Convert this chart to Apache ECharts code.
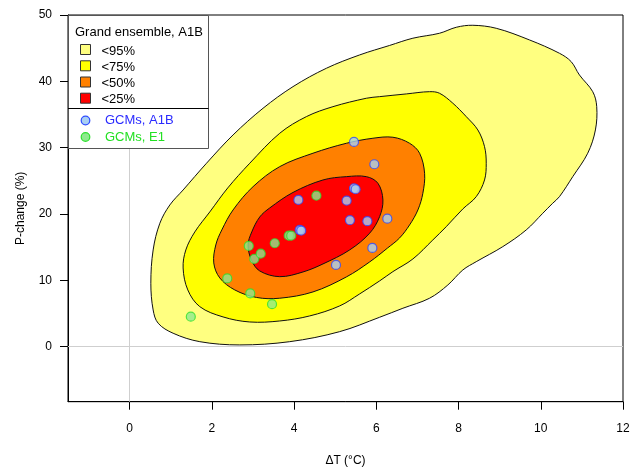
<!DOCTYPE html>
<html>
<head>
<meta charset="utf-8">
<script src="https://cdn.jsdelivr.net/npm/echarts@6/dist/echarts.min.js"></script>
<style>
html,body{margin:0;padding:0;background:#fff;}
#chart{width:630px;height:469px;}
</style>
</head>
<body>
<div id="chart"></div>
<script>
// ---- data ----
const xTicks = [0, 2, 4, 6, 8, 10, 12];
const yTicks = [0, 10, 20, 30, 40, 50];
const legendTitle = 'Grand ensemble, A1B';
const contourNames = ['<95%', '<75%', '<50%', '<25%'];

const c95 = [[0.515,9.56],[0.571,14.58],[0.734,18.60],[0.977,21.36],[1.30,23.62],[1.869,27.65],[2.515,31.92],[3.244,35.94],[3.973,39.20],[4.785,41.97],[5.594,43.98],[6.323,45.41],[6.889,46.50],[7.538,47.25],[7.944,48.15],[8.347,48.45],[8.916,48.00],[9.725,46.24],[10.454,44.23],[10.739,42.97],[10.940,40.96],[11.264,38.44],[11.361,36.18],[11.329,32.67],[11.142,29.16],[10.778,25.63],[10.454,22.61],[10.29,21.62],[10.049,20.11],[9.645,17.59],[9.077,15.08],[8.430,12.81],[8.104,11.56],[7.740,9.30],[7.295,7.30],[6.646,5.79],[6.080,4.43],[5.108,2.26],[3.893,0.75],[2.678,0.26],[1.706,0.75],[1.057,2.02],[0.693,3.53],[0.571,5.53]];
const c75 = [[5.757,37.45],[6.080,37.69],[6.729,38.10],[7.295,38.44],[7.538,38.20],[7.861,36.70],[8.187,34.68],[8.469,32.67],[8.632,30.15],[8.673,27.65],[8.632,25.13],[8.430,22.61],[8.104,20.76],[7.701,18.09],[7.375,16.09],[6.889,13.22],[6.403,11.31],[6.080,9.91],[5.594,7.95],[5.108,6.14],[4.379,4.63],[3.650,3.87],[2.921,3.72],[2.272,4.48],[1.706,6.03],[1.414,8.55],[1.300,11.86],[1.366,14.58],[1.584,17.29],[1.949,20.31],[2.386,23.93],[2.921,27.65],[3.650,32.17],[4.299,34.68],[4.945,36.18]];
const c50 = [[5.917,31.42],[6.403,31.57],[6.809,30.66],[7.052,29.16],[7.174,26.14],[7.132,23.13],[7.011,20.61],[6.809,18.35],[6.566,16.39],[6.275,14.88],[5.837,12.77],[5.271,10.51],[4.459,8.25],[3.650,7.30],[3.084,7.42],[2.557,8.55],[2.192,10.36],[2.046,12.62],[2.095,15.33],[2.241,17.59],[2.515,20.61],[3.001,24.12],[3.650,27.14],[4.459,29.16],[5.271,30.66]];
const c25 = [[5.757,25.63],[6.039,24.63],[6.160,22.12],[6.080,19.60],[5.837,17.10],[5.351,14.58],[4.702,12.47],[4.216,11.26],[3.650,10.55],[3.164,11.41],[2.962,13.07],[2.880,15.33],[2.970,17.29],[3.164,19.55],[3.407,20.91],[3.973,23.25],[4.702,25.13],[5.271,25.63]];

const gcmA1B = [[5.456,30.86],[5.951,27.50],[5.456,23.88],[5.497,23.73],[5.278,22.01],[4.104,22.12],[5.358,19.06],[5.781,18.91],[6.267,19.30],[4.136,17.59],[4.173,17.49],[5.903,14.88],[5.018,12.32]];
const gcmE1 = [[1.487,4.52],[2.374,10.28],[2.933,8.02],[3.463,6.41],[2.897,15.18],[3.030,13.22],[3.188,14.02],[3.529,15.59],[3.869,16.73],[3.930,16.73],[4.542,22.76]];

const contourColors = ['#FFFF80', '#FFFF00', '#FF8000', '#FF0000'];
const contours = [c95, c75, c50, c25];

const FONT = '"Liberation Sans", Arial, sans-serif';

function contourSeries(pts, name, color) {
  return {
    type: 'custom',
    name: name,
    coordinateSystem: 'cartesian2d',
    data: pts,
    encode: { x: 0, y: 1 },
    z: 2,
    silent: true,
    renderItem: function (params, api) {
      if (params.dataIndex !== 0) return null;
      return {
        type: 'polygon',
        shape: { points: pts.map(p => api.coord(p)), smooth: 0.35 },
        style: { fill: color, stroke: '#111', lineWidth: 1 }
      };
    }
  };
}

const chart = echarts.init(document.getElementById('chart'), null, { renderer: 'canvas' });

const series = [
  {
    type: 'line', data: [], z: 1, silent: true,
    markLine: {
      silent: true, symbol: 'none', animation: false,
      label: { show: false },
      lineStyle: { color: '#cfcfcf', type: 'solid', width: 1 },
      data: [{ xAxis: 0 }, { yAxis: 0 }]
    }
  }
];
contours.forEach((c, i) => series.push(contourSeries(c, contourNames[i], contourColors[i])));
series.push({
  type: 'scatter', name: 'GCMs, A1B', data: gcmA1B, z: 4, symbolSize: 9,
  itemStyle: { color: '#A9CFF2', borderColor: '#2E4BFF', borderWidth: 1.2 }
});
series.push({
  type: 'scatter', name: 'GCMs, E1', data: gcmE1, z: 3, symbolSize: 9,
  itemStyle: { color: '#8EEA8E', borderColor: '#2EE02E', borderWidth: 1.2 }
});

// legend drawn as graphic (box with title, divider)
const legX = 68, legY = 15, legW = 140, legH = 133;
const g = [];
g.push({ type: 'rect', shape: { x: legX + 0.5, y: legY + 0.5, width: legW, height: legH }, style: { fill: '#fff', stroke: '#555', lineWidth: 1 }, z: 100 });
g.push({ type: 'text', x: 75, y: 32, style: { text: legendTitle, font: '13px ' + FONT, fill: '#000', verticalAlign: 'middle' }, z: 101 });
const sqY = [49.5, 65.8, 82, 98.2];
contourNames.forEach((n, i) => {
  g.push({ type: 'rect', shape: { x: 80.5, y: sqY[i] - 5, width: 10, height: 10 }, style: { fill: contourColors[i], stroke: '#333', lineWidth: 1 }, z: 101 });
  g.push({ type: 'text', x: 101.5, y: sqY[i] + 1.5, style: { text: n, font: '13px ' + FONT, fill: '#000', verticalAlign: 'middle' }, z: 101 });
});
g.push({ type: 'line', shape: { x1: legX, y1: 108.5, x2: legX + legW + 0.5, y2: 108.5 }, style: { stroke: '#000', lineWidth: 1 }, z: 101 });
g.push({ type: 'circle', shape: { cx: 85.5, cy: 120.5, r: 4.3 }, style: { fill: '#A9CFF2', stroke: '#2E4BFF', lineWidth: 1.2 }, z: 101 });
g.push({ type: 'text', x: 105, y: 120.5, style: { text: 'GCMs, A1B', font: '13px ' + FONT, fill: '#2B2BFF', verticalAlign: 'middle' }, z: 101 });
g.push({ type: 'circle', shape: { cx: 85.5, cy: 137, r: 4.3 }, style: { fill: '#8EEA8E', stroke: '#2EE02E', lineWidth: 1.2 }, z: 101 });
g.push({ type: 'text', x: 105, y: 137, style: { text: 'GCMs, E1', font: '13px ' + FONT, fill: '#22E022', verticalAlign: 'middle' }, z: 101 });

chart.setOption({
  animation: false,
  backgroundColor: '#fff',
  grid: { left: 68, right: 7, top: 15, bottom: 67.3, outerBoundsMode: 'none', containLabel: false, show: true, borderColor: '#000', borderWidth: 1, backgroundColor: 'transparent' },
  xAxis: {
    type: 'value', min: -1.5, max: 12,
    name: 'ΔT (°C)', nameLocation: 'middle', nameGap: 53,
    nameTextStyle: { fontFamily: FONT, fontSize: 12, color: '#000' },
    axisLine: { show: true, onZero: false, lineStyle: { color: '#000', width: 1 } },
    axisTick: { show: true, length: 8, lineStyle: { color: '#000' }, customValues: xTicks },
    axisLabel: { fontFamily: FONT, fontSize: 12, color: '#000', margin: 21, customValues: xTicks },
    splitLine: { show: false }
  },
  yAxis: {
    type: 'value', min: -8.3, max: 50,
    name: 'P-change (%)', nameLocation: 'middle', nameGap: 41, nameRotate: 90,
    nameTextStyle: { fontFamily: FONT, fontSize: 12, color: '#000' },
    axisLine: { show: true, onZero: false, lineStyle: { color: '#000', width: 1 } },
    axisTick: { show: true, length: 8, lineStyle: { color: '#000' }, customValues: yTicks },
    axisLabel: { fontFamily: FONT, fontSize: 12, color: '#000', margin: 16, customValues: yTicks },
    splitLine: { show: false }
  },
  series: series,
  graphic: g
});
</script>
</body>
</html>
